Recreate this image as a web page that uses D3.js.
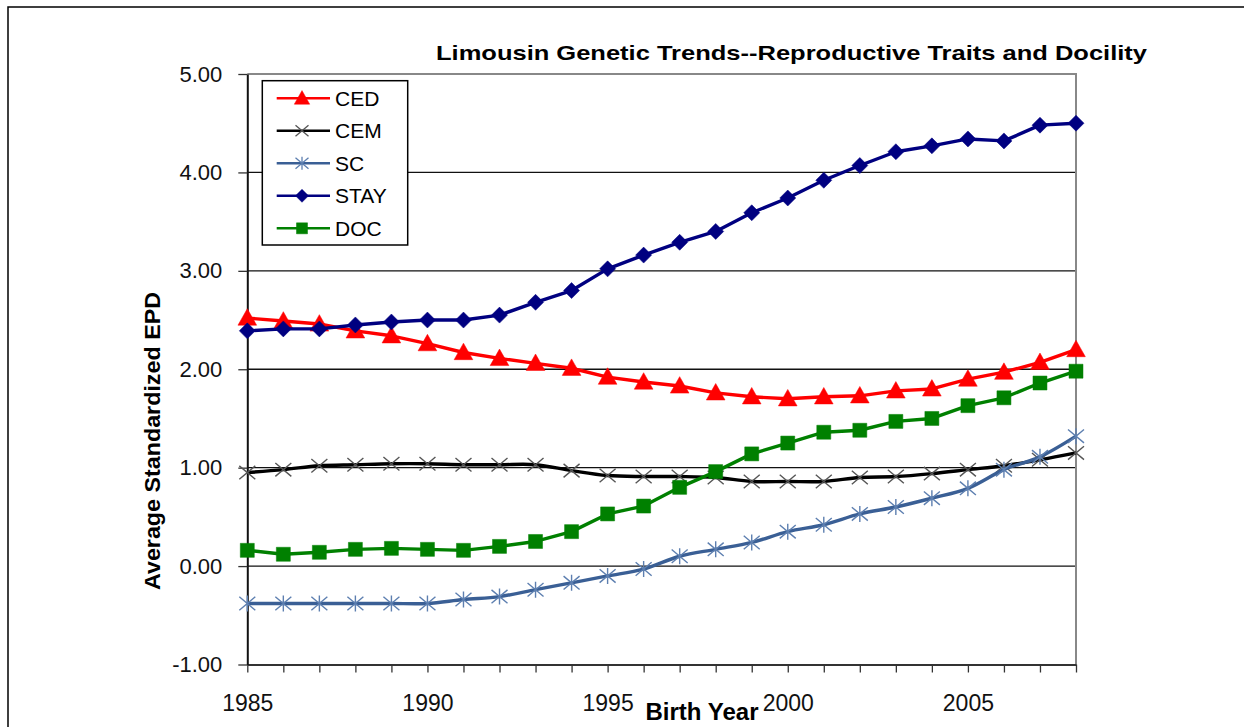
<!DOCTYPE html>
<html>
<head>
<meta charset="utf-8">
<script src="https://cdn.jsdelivr.net/npm/d3@7"></script>
<style>
  body { margin: 0; background: #fff; }
  svg { display: block; font-family: Arial, "Liberation Sans", sans-serif; }
</style>
</head>
<body>
<svg id="chart" width="1244" height="727"></svg>
<script>
// ── data ───────────────────────────────────────────────────────────────
const years = d3.range(1985, 2009);
const yTicks = [-1, 0, 1, 2, 3, 4, 5];
const xLabelYears = [1985, 1990, 1995, 2000, 2005];

const ced  = [2.52, 2.49, 2.46, 2.39, 2.34, 2.26, 2.17, 2.11, 2.06, 2.01, 1.92, 1.87,
              1.83, 1.76, 1.72, 1.70, 1.72, 1.73, 1.78, 1.80, 1.90, 1.97, 2.07, 2.20];
const cem  = [0.95, 0.98, 1.02, 1.03, 1.04, 1.04, 1.03, 1.03, 1.03, 0.97, 0.92, 0.91,
              0.91, 0.90, 0.86, 0.86, 0.86, 0.90, 0.91, 0.94, 0.98, 1.02, 1.08, 1.15];
const sc   = [-0.38, -0.38, -0.38, -0.38, -0.38, -0.38, -0.34, -0.31, -0.24, -0.17, -0.10, -0.03,
              0.10, 0.17, 0.24, 0.35, 0.42, 0.53, 0.60, 0.69, 0.79, 0.98, 1.11, 1.32];
const stay = [2.39, 2.41, 2.41, 2.45, 2.48, 2.50, 2.50, 2.55, 2.68, 2.80, 3.02, 3.16,
              3.29, 3.40, 3.59, 3.74, 3.92, 4.07, 4.21, 4.27, 4.34, 4.32, 4.48, 4.50];
const doc  = [0.16, 0.12, 0.14, 0.17, 0.18, 0.17, 0.16, 0.20, 0.25, 0.35, 0.53, 0.61,
              0.80, 0.96, 1.14, 1.25, 1.36, 1.38, 1.47, 1.50, 1.63, 1.71, 1.86, 1.98];

const seriesNames = ["CED", "CEM", "SC", "STAY", "DOC"];

// ── marker shapes ───────────────────────────────────────────────────────
const shapes = {
  triangle: s => `M0,${-s*0.55}L${s*0.55},${s*0.42}L${-s*0.55},${s*0.42}Z`,
  diamond:  s => `M0,${-s/2}L${s/2},0L0,${s/2}L${-s/2},0Z`,
  square:   s => `M${-s/2},${-s/2}h${s}v${s}h${-s}Z`,
  cross:    s => `M${-s/2},${-s*0.42}L${s/2},${s*0.42}M${s/2},${-s*0.42}L${-s/2},${s*0.42}`,
  star:     s => `M${-s/2},${-s*0.42}L${s/2},${s*0.42}M${s/2},${-s*0.42}L${-s/2},${s*0.42}M0,${-s/2}L0,${s/2}`
};

const series = [
  { name: "CED",  values: ced,  line: "#ff0000", mark: "#ff0000", shape: "triangle", size: 17, fill: true,  smooth: false },
  { name: "CEM",  values: cem,  line: "#000000", mark: "#555555", shape: "cross",    size: 16, fill: false, smooth: true  },
  { name: "SC",   values: sc,   line: "#3a5f95", mark: "#5d7fb0", shape: "star",     size: 16, fill: false, smooth: true  },
  { name: "STAY", values: stay, line: "#000080", mark: "#000080", shape: "diamond",  size: 16, fill: true,  smooth: false },
  { name: "DOC",  values: doc,  line: "#008000", mark: "#008000", shape: "square",   size: 14, fill: true,  smooth: false }
];

// ── layout ───────────────────────────────────────────────────────────────
const plot = { left: 247.3, right: 1076, top: 74, bottom: 664.5 };
const svg = d3.select("#chart");

// outer frame
svg.append("rect")
  .attr("x", 8).attr("y", 7)
  .attr("width", 1260).attr("height", 760)
  .attr("fill", "none").attr("stroke", "#000").attr("stroke-width", 1.5);

const x = d3.scaleLinear().domain([1985, 2008]).range([plot.left, plot.right]);
const y = d3.scaleLinear().domain([-1, 5]).range([plot.bottom, plot.top]);

// gridlines
svg.append("g")
  .selectAll("line")
  .data([0, 1, 2, 3, 4])
  .join("line")
    .attr("x1", plot.left).attr("x2", plot.right)
    .attr("y1", d => y(d)).attr("y2", d => y(d))
    .attr("stroke", "#111").attr("stroke-width", 1.4);

// top + right border (gray)
svg.append("path")
  .attr("d", `M${plot.left},${plot.top}H${plot.right}V${plot.bottom}`)
  .attr("fill", "none").attr("stroke", "#888").attr("stroke-width", 2);

// axes
const xAxis = svg.append("g")
  .attr("transform", `translate(0,${plot.bottom})`)
  .call(d3.axisBottom(x)
    .tickValues(years)
    .tickFormat(d => xLabelYears.includes(d) ? String(d) : "")
    .tickSize(8)
    .tickSizeOuter(0)
    .tickPadding(22));
xAxis.select(".domain").attr("stroke", "#333").attr("stroke-width", 2);
xAxis.selectAll(".tick line").attr("stroke", "#333").attr("stroke-width", 1.3);
xAxis.selectAll("text").attr("font-size", 23).attr("fill", "#111")
  .attr("font-family", "Arial, 'Liberation Sans', sans-serif");

const yAxis = svg.append("g")
  .attr("transform", `translate(${plot.left},0)`)
  .call(d3.axisLeft(y)
    .tickValues(yTicks)
    .tickFormat(d => d.toFixed(2))
    .tickSize(9)
    .tickSizeOuter(0)
    .tickPadding(16));
yAxis.select(".domain").attr("stroke", "#111").attr("stroke-width", 2);
yAxis.selectAll(".tick line").attr("stroke", "#333").attr("stroke-width", 1.3);
yAxis.selectAll("text").attr("font-size", 22).attr("fill", "#111")
  .attr("font-family", "Arial, 'Liberation Sans', sans-serif");

// lines + markers
series.forEach(s => {
  const pts = years.map((yr, i) => ({ yr, v: s.values[i] }));
  const line = d3.line()
    .x(d => x(d.yr))
    .y(d => y(d.v))
    .curve(s.smooth ? d3.curveCatmullRom.alpha(0.5) : d3.curveLinear);

  svg.append("path")
    .datum(pts)
    .attr("fill", "none")
    .attr("stroke", s.line)
    .attr("stroke-width", 3.4)
    .attr("stroke-linejoin", "round")
    .attr("d", line);

  svg.append("g")
    .selectAll("path")
    .data(pts)
    .join("path")
      .attr("transform", d => `translate(${x(d.yr)},${y(d.v)})`)
      .attr("d", shapes[s.shape](s.size))
      .attr("fill", s.fill ? s.mark : "none")
      .attr("stroke", s.mark)
      .attr("stroke-width", s.fill ? 0.5 : 1.4);
});

// legend
const legend = svg.append("g");
legend.append("rect")
  .attr("x", 262.3).attr("y", 80.7)
  .attr("width", 145.4).attr("height", 164.3)
  .attr("fill", "#fff").attr("stroke", "#000").attr("stroke-width", 1.5);

const legendY = d3.scalePoint().domain(seriesNames).range([98.3, 228.3]);
series.forEach(s => {
  const ly = legendY(s.name);
  legend.append("line")
    .attr("x1", 276.7).attr("x2", 330)
    .attr("y1", ly).attr("y2", ly)
    .attr("stroke", s.line).attr("stroke-width", 2.5);
  legend.append("path")
    .attr("transform", `translate(302,${ly})`)
    .attr("d", shapes[s.shape](s.size - 3))
    .attr("fill", s.fill ? s.mark : "none")
    .attr("stroke", s.mark)
    .attr("stroke-width", s.fill ? 0.5 : 1.3);
  legend.append("text")
    .attr("x", 335).attr("y", ly + 7.5)
    .attr("font-size", 21)
    .attr("fill", "#000")
    .text(s.name);
});

// titles
svg.append("text")
  .attr("x", 791.5).attr("y", 60)
  .attr("text-anchor", "middle")
  .attr("font-size", 21).attr("font-weight", "bold")
  .attr("textLength", 711).attr("lengthAdjust", "spacingAndGlyphs")
  .text("Limousin Genetic Trends--Reproductive Traits and Docility");

svg.append("text")
  .attr("x", 702).attr("y", 720)
  .attr("text-anchor", "middle")
  .attr("font-size", 23).attr("font-weight", "bold")
  .attr("textLength", 113).attr("lengthAdjust", "spacingAndGlyphs")
  .text("Birth Year");

svg.append("text")
  .attr("transform", "translate(160,441) rotate(-90)")
  .attr("text-anchor", "middle")
  .attr("font-size", 22).attr("font-weight", "bold")
  .attr("textLength", 298).attr("lengthAdjust", "spacingAndGlyphs")
  .text("Average Standardized EPD");
</script>
</body>
</html>
